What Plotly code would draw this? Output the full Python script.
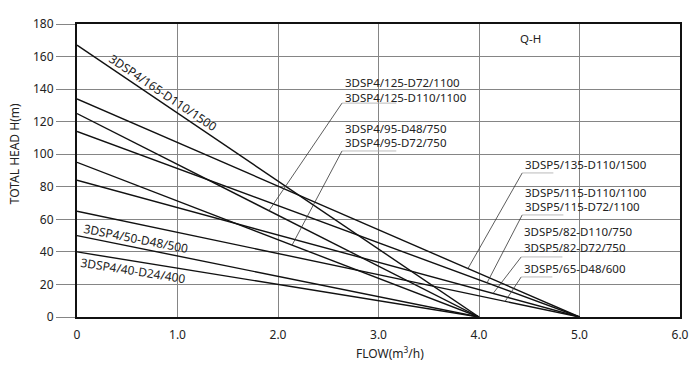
import plotly.graph_objects as go

# ---- data ----
series_names = ["3DSP4/165", "3DSP5/135", "3DSP4/125", "3DSP5/115", "3DSP4/95",
                "3DSP5/82", "3DSP5/65", "3DSP4/50", "3DSP4/40"]
shutoff_head = [167, 134, 125, 114, 95, 84, 65, 50, 40]   # H at Q=0 (m)
max_flow = [4.0, 5.0, 4.0, 5.0, 4.0, 5.0, 5.0, 4.0, 4.0]   # Q at H=0 (m3/h)

x_ticks = [0, 1, 2, 3, 4, 5, 6]
x_tick_labels = ["0", "1.0", "2.0", "3.0", "4.0", "5.0", "6.0"]
y_ticks = [0, 20, 40, 60, 80, 100, 120, 140, 160, 180]

# callouts: (text lines, series index, flow where leader touches the curve)
callout_texts = [
    ["3DSP4/125-D72/1100", "3DSP4/125-D110/1100"],
    ["3DSP4/95-D48/750", "3DSP4/95-D72/750"],
    ["3DSP5/135-D110/1500"],
    ["3DSP5/115-D110/1100", "3DSP5/115-D72/1100"],
    ["3DSP5/82-D110/750", "3DSP5/82-D72/750"],
    ["3DSP5/65-D48/600"],
]
callout_series = [2, 4, 1, 3, 5, 6]
callout_touch_q = [1.91, 2.14, 3.89, 4.08, 4.14, 4.26]

# layout of callouts (label left x, first-row y, row spacing, underline y, underline length)
callout_pos = [
    (2.647, 144.3, 9.2, 131.4, 0.53),
    (2.647, 116.1, 9.2, 102.0, 0.53),
    (4.44, 93.4, 8.5, 88.5, 0.30),
    (4.44, 76.4, 8.4, 62.7, 0.40),
    (4.43, 52.8, 9.8, 36.9, 0.40),
    (4.43, 30.1, 8.0, 24.6, 0.30),
]

FONT = "Noto Sans"
LBL = 11.5

fig = go.Figure()
for name, h, q in zip(series_names, shutoff_head, max_flow):
    fig.add_trace(go.Scatter(x=[0, q], y=[h, 0], mode="lines", name=name,
                             line=dict(color="#111111", width=1.4),
                             showlegend=False, hoverinfo="skip"))

annotations = []
shapes = []


def head_at(i, q):
    return shutoff_head[i] * (1 - q / max_flow[i])


for texts, si, tq, (lx, ly, dy, uy, ulen) in zip(callout_texts, callout_series,
                                                  callout_touch_q, callout_pos):
    for k, t in enumerate(texts):
        annotations.append(dict(x=lx, y=ly - k * dy, xref="x", yref="y", text=t,
                                showarrow=False, xanchor="left", yanchor="middle",
                                font=dict(family=FONT, size=LBL, color="#222")))
    shapes.append(dict(type="line", xref="x", yref="y", x0=tq, y0=head_at(si, tq),
                       x1=lx - 0.01, y1=uy, line=dict(color="#333", width=0.8)))
    shapes.append(dict(type="line", xref="x", yref="y", x0=lx - 0.01, y0=uy,
                       x1=lx + ulen, y1=uy, line=dict(color="#aaaaaa", width=0.8)))

# rotated labels along curves
rot_labels = [
    ("3DSP4/165-D110/1500", 0.856, 138.2, 34),
    ("3DSP4/50-D48/500", 0.587, 48.5, 11),
    ("3DSP4/40-D24/400", 0.557, 28.3, 9),
]
for t, x, y, ang in rot_labels:
    annotations.append(dict(x=x, y=y, xref="x", yref="y", text=t, showarrow=False,
                            textangle=ang, font=dict(family=FONT, size=12, color="#222")))

annotations.append(dict(x=4.51, y=170.8, xref="x", yref="y", text="Q-H", showarrow=False,
                        font=dict(family=FONT, size=11.5, color="#222")))
annotations.append(dict(x=3.11, y=-0.085, xref="x", yref="paper", yanchor="top",
                        text="FLOW(m<sup>3</sup>/h)", showarrow=False,
                        font=dict(family=FONT, size=12, color="#222")))
annotations.append(dict(x=0, xref="paper", xanchor="center", xshift=-63, y=100, yref="y",
                        yanchor="middle", text="TOTAL HEAD H(m)", showarrow=False,
                        textangle=-90, font=dict(family=FONT, size=12, color="#222")))

fig.update_layout(
    width=700, height=369,
    margin=dict(l=77, r=20, t=24, b=52),
    paper_bgcolor="white", plot_bgcolor="white",
    font=dict(family=FONT, size=12, color="#222"),
    annotations=annotations, shapes=shapes,
    xaxis=dict(range=[0, 6], tickvals=x_ticks, ticktext=x_tick_labels,
               showgrid=True, gridcolor="#858585", gridwidth=1,
               showline=True, linecolor="#111", linewidth=2, mirror=True,
               ticks="", ticklabelstandoff=6, zeroline=False,
               tickfont=dict(family=FONT, size=12, color="#222")),
    yaxis=dict(range=[0, 180], tickvals=y_ticks,
               showgrid=True, gridcolor="#858585", gridwidth=1,
               showline=True, linecolor="#111", linewidth=2, mirror=True,
               ticks="outside", ticklen=19, tickcolor="#858585", zeroline=False,
               tickfont=dict(family=FONT, size=12, color="#222")),
)

fig.write_html("out.html", config={"displayModeBar": False})

# remove the browser's default body margin so the figure sits at the page origin
with open("out.html", encoding="utf-8") as f:
    html = f.read()
html = html.replace("<head>", "<head><style>html,body{margin:0;padding:0;overflow:hidden;}</style>", 1)
with open("out.html", "w", encoding="utf-8") as f:
    f.write(html)
